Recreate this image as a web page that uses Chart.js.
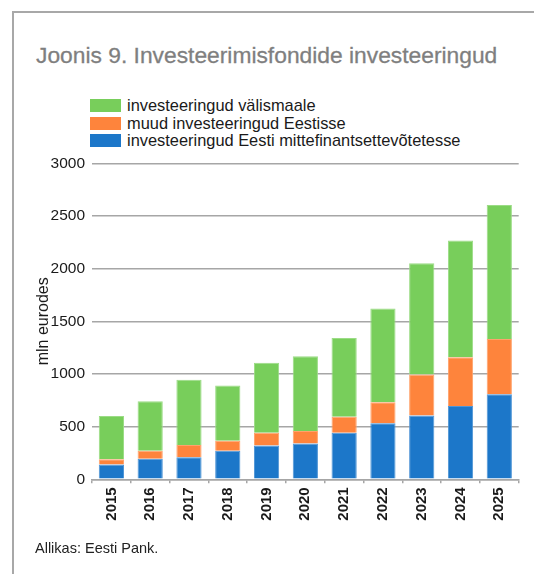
<!DOCTYPE html>
<html>
<head>
<meta charset="utf-8">
<script src="https://cdn.jsdelivr.net/npm/chart.js@4"></script>
<style>
    body { margin: 0; background: #fff; font-family: "Liberation Sans", Arial, sans-serif; }
    #wrap { position: relative; width: 534px; height: 574px; overflow: hidden; }
    #frame { position: absolute; left: 12px; top: 11px; width: 600px; height: 600px;
             border-left: 2px solid #a8a8a8; border-top: 2px solid #a8a8a8; }
    #title { position: absolute; left: 36px; top: 44px; font-size: 22.8px; line-height: 1; color: #7f7f7f;
             white-space: nowrap; -webkit-text-stroke: 0.3px #7f7f7f; }
    #legend { position: absolute; left: 90px; top: 97px; }
    .row { display: flex; align-items: center; height: 17.5px; font-size: 16.4px; color: #1a1a1a; white-space: nowrap; }
    .box { width: 31px; height: 13px; margin-right: 6px; }
    #source { position: absolute; left: 35px; top: 541px; font-size: 14.5px; line-height: 1; color: #222; }
    canvas { position: absolute; left: 0; top: 0; }
</style>
</head>
<body>
<div id="wrap">
    <div id="frame"></div>
    <div id="title">Joonis 9. Investeerimisfondide investeeringud</div>
    <div id="legend"></div>
    <canvas id="chart" width="534" height="574"></canvas>
    <div id="source">Allikas: Eesti Pank.</div>
</div>
<script>
// andmed (mln eurot)
const years = ['2015', '2016', '2017', '2018', '2019', '2020', '2021', '2022', '2023', '2024', '2025'];
const eestiEttevotted = [140, 195, 210, 270, 320, 340, 442, 532, 605, 696, 807];
const muudEesti = [50, 75, 115, 95, 122, 118, 152, 200, 390, 462, 525];
const valismaale = [410, 470, 620, 525, 665, 710, 748, 890, 1055, 1110, 1272];

const seriesNames = [
    'investeeringud Eesti mittefinantsettevõtetesse',
    'muud investeeringud Eestisse',
    'investeeringud välismaale'
];
const seriesColors = ['#1c77c9', '#fe843c', '#78ce5b'];
const borderColors = ['#4f95d6', '#ffa26b', '#9bdc85'];
const seriesData = [eestiEttevotted, muudEesti, valismaale];

// legend (ülevalt alla: välismaale, muud, Eesti)
const legendEl = document.getElementById('legend');
for (let i = seriesNames.length - 1; i >= 0; i--) {
    const row = document.createElement('div');
    row.className = 'row';
    row.innerHTML = '<span class="box" style="background:' + seriesColors[i] + '"></span>' + seriesNames[i];
    legendEl.appendChild(row);
}

const gridColor = '#a6a6a6';

const ctx = document.getElementById('chart').getContext('2d');
new Chart(ctx, {
    type: 'bar',
    data: {
        labels: years,
        datasets: seriesData.map((d, i) => ({
            label: seriesNames[i],
            data: d,
            backgroundColor: seriesColors[i],
            borderColor: borderColors[i],
            borderWidth: 1,
            barPercentage: 0.65,
            categoryPercentage: 1
        }))
    },
    options: {
        responsive: false,
        animation: false,
        layout: {
            padding: { left: 31, top: 163.3, right: 15.3, bottom: 44.7 }
        },
        plugins: {
            legend: { display: false },
            tooltip: { enabled: false }
        },
        scales: {
            x: {
                stacked: true,
                grid: {
                    offset: true,
                    drawOnChartArea: false,
                    drawTicks: true,
                    tickLength: 4,
                    color: gridColor,
                    lineWidth: 1.5
                },
                border: { display: true, color: gridColor, width: 1.5 },
                ticks: {
                    minRotation: 90,
                    maxRotation: 90,
                    padding: 4,
                    color: '#1a1a1a',
                    font: { family: 'Liberation Sans', size: 15, weight: 'bold' }
                },
                afterFit: function(scale) { scale.height = 50; }
            },
            y: {
                stacked: true,
                min: 0,
                max: 3000,
                ticks: {
                    stepSize: 500,
                    padding: 7,
                    color: '#1a1a1a',
                    font: { family: 'Liberation Sans', size: 15.5 },
                    callback: function(value) { return String(value); }
                },
                grid: {
                    color: gridColor,
                    lineWidth: 1.5,
                    drawTicks: false
                },
                border: { display: false },
                title: {
                    display: true,
                    text: 'mln eurodes',
                    color: '#1a1a1a',
                    font: { family: 'Liberation Sans', size: 16 },
                    padding: { top: 3, bottom: 0 }
                },
                afterFit: function(scale) { scale.width = 61; }
            }
        }
    }
});
</script>
</body>
</html>
